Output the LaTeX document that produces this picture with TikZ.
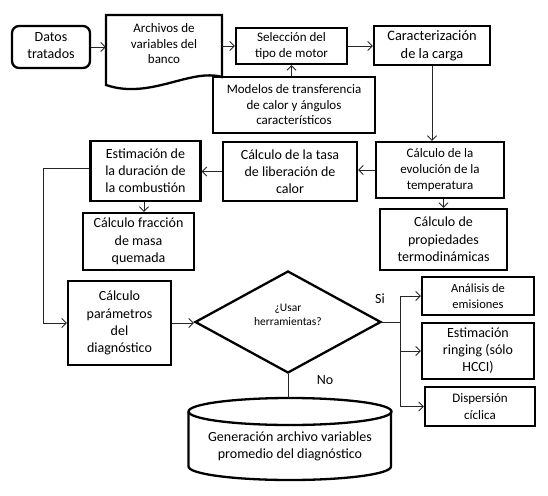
\documentclass[tikz,border=0pt]{standalone}
\usepackage{fontspec}
\setmainfont{Carlito}
\usetikzlibrary{arrows.meta,shapes.geometric}
\newcommand{\fsz}[2]{\fontsize{#1}{#2}\selectfont}
\tikzset{
  box/.style={draw, line width=2.3pt, rectangle, inner sep=0pt, align=center},
  boxline/.style={line width=2.3pt, line join=miter},
  conn/.style={line width=0.9pt, draw=black!85},
  arr/.style={conn, -{Straight Barb[length=4.5pt,width=9pt]}},
  lbl/.style={inner sep=0pt, align=center}
}
\begin{document}
\begin{tikzpicture}[x=1pt,y=-1pt]
\fill[white] (0,0) rectangle (548,495);
\useasboundingbox (0,0) rectangle (548,495);

% top row
\node[box, rounded corners=7pt, minimum width=78pt, minimum height=42pt, font=\fsz{14}{17}] (datos) at (51,47) {\raisebox{-2pt}{\begin{tabular}{@{}c@{}}Datos\\tratados\end{tabular}}};

\node[lbl, minimum width=116pt, minimum height=68pt] (archivos) at (164,49) {};
\draw[boxline] (106,85) -- (106,15) -- (222,15) -- (222,77) .. controls (190,68) and (150,100) .. (106,85) -- cycle;
\node[lbl, font=\fsz{13}{15.5}] (archtxt) at (164,44) {Archivos de\\variables del\\banco};

\node[box, minimum width=111pt, minimum height=36pt, font=\fsz{13}{16.5}] (sel) at (291.5,46) {Selección del\\tipo de motor};
\node[box, minimum width=116pt, minimum height=39pt, font=\fsz{14.4}{18}] (car) at (432,45.5) {Caracterización\\de la carga};
\node[box, minimum width=162pt, minimum height=56pt, font=\fsz{13}{15.5}] (mod) at (294,105) {Modelos de transferencia\\de calor y ángulos\\característicos};

\draw[arr] (datos.east) -- (datos.east -| archivos.west);
\draw[arr] (archivos.east |- sel.west) -- (sel.west);
\draw[arr] (sel.east) -- (sel.east -| car.west);
\draw[arr] (sel.south |- mod.north) -- (sel.south);

% second row
\node[box, minimum width=128pt, minimum height=56pt, font=\fsz{13}{16}] (evo) at (440,170) {Cálculo de la\\evolución de la\\temperatura};
\node[box, minimum width=127pt, minimum height=61pt, font=\fsz{14}{17.5}] (prop) at (443.5,239.5) {Cálculo de\\propiedades\\termodinámicas};
\node[box, minimum width=134pt, minimum height=59pt, font=\fsz{14}{17}] (tasa) at (290,171.5) {Cálculo de la tasa\\de liberación de\\calor};
\node[box, minimum width=110pt, minimum height=60pt, font=\fsz{14}{17}] (est) at (145.5,171) {Estimación de\\la duración de\\la combustión};
\node[box, minimum width=111pt, minimum height=57pt, font=\fsz{14}{17.5}] (frac) at (138.5,241.5) {Cálculo fracción\\de masa\\quemada};

\draw[arr] (car.south) -- (car.south |- evo.north);
\draw[arr] (prop.north |- evo.south) -- (prop.north);
\draw[arr] (evo.west) -- (evo.west -| tasa.east);
\draw[arr] (tasa.west) -- (tasa.west -| est.east);
\draw[arr] (est.south -| 144,0) -- (144,0 |- frac.north);

% third row
\node[box, minimum width=103pt, minimum height=84pt, font=\fsz{14}{17.3}] (param) at (119.5,323) {Cálculo\\parámetros\\del\\diagnóstico};
\draw[arr] ([yshift=3pt]est.west) -- ++(-46,0) |- (param.west);

\node[draw, diamond, line width=2.3pt, minimum width=186pt, minimum height=102pt, inner sep=0pt, aspect=1.8] (dia) at (288,322) {};
\node[lbl, font=\fsz{11.5}{14}] (usar) at (288,315) {¿Usar\\herramientas?};
\draw[arr] (param.east) -- (param.east -| dia.west);

\node[lbl, font=\fsz{14}{17}] (si) at (380,299) {Si};
\node[lbl, font=\fsz{14}{17}] (no) at (325,380) {No};

\node[box, minimum width=112pt, minimum height=38pt, font=\fsz{12.5}{16}] (anal) at (478,296) {Análisis de\\emisiones};
\node[box, minimum width=112pt, minimum height=56pt, font=\fsz{14}{17}] (ring) at (478,351) {Estimación\\ringing (sólo\\HCCI)};
\node[box, minimum width=110pt, minimum height=39pt, font=\fsz{13}{17}] (disp) at (480,406.5) {Dispersión\\cíclica};

\coordinate (br) at (400,322);
\draw[conn] (dia.east) -- (br);
\draw[conn] (br |- anal.west) -- (br |- disp.west);
\draw[arr] (br |- anal.west) -- (anal.west);
\draw[arr] (br |- ring.west) -- (ring.west);
\draw[arr] (br |- disp.west) -- (disp.west);

% cylinder
\coordinate (cyltop) at (290,398);
\draw[boxline] (188.5,411.5) -- (188.5,466.5)
  .. controls (188.5,473.96) and (233.94,480) .. (290,480)
  .. controls (346.06,480) and (391,473.96) .. (391,466.5) -- (391,411.5);
\draw[boxline] (290,411.5) ellipse [x radius=101.5pt, y radius=13.5pt];
\node[lbl, font=\fsz{14}{16.7}] (cyl) at (290,446.5) {Generación archivo variables\\promedio del diagnóstico};
\draw[conn] (dia.south) -- (dia.south |- cyltop);
\end{tikzpicture}
\end{document}
